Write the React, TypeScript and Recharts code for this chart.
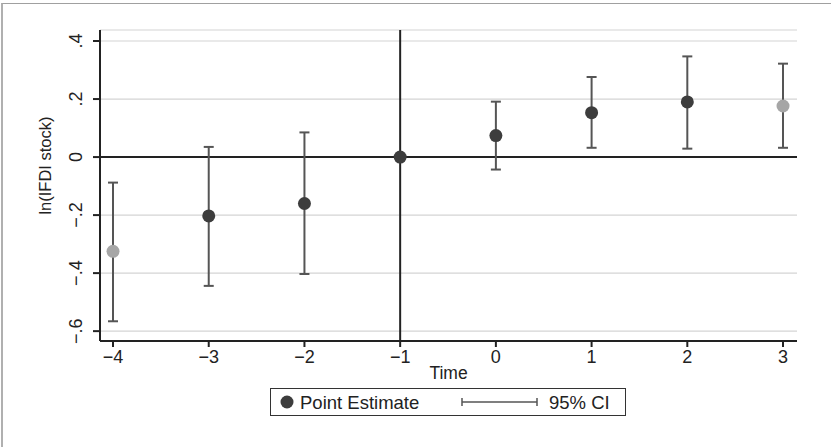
import React from "react";
import {
  ComposedChart,
  Scatter,
  ErrorBar,
  XAxis,
  YAxis,
  CartesianGrid,
  ReferenceLine,
  Label,
} from "recharts";

// event time relative to treatment
const periods = [-4, -3, -2, -1, 0, 1, 2, 3];
// point estimates on ln(IFDI stock)
const estimates = [-0.325, -0.203, -0.16, 0, 0.074, 0.153, 0.19, 0.176];
// 95% confidence bounds (reference period has none)
const ciLow = [-0.566, -0.444, -0.403, null, -0.043, 0.032, 0.029, 0.032];
const ciHigh = [-0.088, 0.035, 0.085, null, 0.191, 0.276, 0.347, 0.322];
// binned end points are drawn in a lighter shade
const binned = [true, false, false, false, false, false, false, true];

const xTicks = [-4, -3, -2, -1, 0, 1, 2, 3];
const yTicks = [-0.6, -0.4, -0.2, 0, 0.2, 0.4];

const FONT = "'Liberation Sans', Arial, Helvetica, sans-serif";
const INK = "#222";
const DARK = "#3d3d3d";
const LIGHT = "#a6a6a6";
const BAR = "#555";

const rows = periods.map((t, i) => ({
  t,
  est: estimates[i],
  err:
    ciLow[i] == null || ciHigh[i] == null
      ? null
      : [estimates[i] - (ciLow[i] as number), (ciHigh[i] as number) - estimates[i]],
  binned: binned[i],
}));

const fmtY = (v: number) => {
  if (Math.abs(v) < 1e-9) return "0";
  const s = Math.abs(v).toFixed(1).replace(/^0/, "");
  return (v < 0 ? "\u2212" : "") + s;
};

const YTick = (props: any) => {
  const { x, y, payload } = props;
  const bx = x - 11;
  return (
    <text
      x={bx}
      y={y}
      transform={`rotate(-90 ${bx} ${y})`}
      textAnchor="middle"
      fill={INK}
      fontSize={18}
      fontFamily={FONT}
    >
      {fmtY(payload.value)}
    </text>
  );
};

const XTick = (props: any) => {
  const { x, y, payload } = props;
  return (
    <text x={x} y={y + 16} textAnchor="middle" fill={INK} fontSize={18} fontFamily={FONT}>
      {String(payload.value).replace("-", "\u2212")}
    </text>
  );
};

const Dot = (props: any) => {
  const { cx, cy, payload } = props;
  if (cx == null || cy == null) return null;
  return <circle cx={cx} cy={cy} r={6.5} fill={payload.binned ? LIGHT : DARK} />;
};

export default function App() {
  return (
    <div
      style={{
        position: "absolute",
        left: 0,
        top: 0,
        width: 831,
        height: 447,
        background: "#fff",
        overflow: "hidden",
        fontFamily: FONT,
      }}
    >
      <div
        style={{
          position: "absolute",
          left: 1,
          top: 3,
          width: 900,
          height: 500,
          borderTop: "1px solid #a0a0a0",
          borderLeft: "2px solid #b0b0b0",
        }}
      />
      <ComposedChart
        width={831}
        height={447}
        data={rows}
        margin={{ top: 30, right: 34, bottom: 66, left: 40 }}
        style={{ position: "absolute", left: 0, top: 0 }}
      >
        <CartesianGrid vertical={false} stroke="#d4d4d4" strokeWidth={1.2} />
        <XAxis
          type="number"
          dataKey="t"
          domain={[-4.136, 3.146]}
          ticks={xTicks}
          allowDataOverflow
          height={40}
          stroke={INK}
          strokeWidth={2}
          tickSize={6}
          tickMargin={0}
          tick={<XTick />}
        >
          <Label
            value="Time"
            position="insideBottom"
            offset={2}
            fill={INK}
            fontSize={17.5}
            fontFamily={FONT}
          />
        </XAxis>
        <YAxis
          type="number"
          domain={[-0.634, 0.438]}
          ticks={yTicks}
          allowDataOverflow
          width={60}
          stroke={INK}
          strokeWidth={2}
          tickSize={7}
          tickMargin={0}
          tick={<YTick />}
        >
          <Label
            content={(p: any) => {
              const vb = p.viewBox || {};
              const cx = 45;
              const cy = (vb.y ?? 30) + (vb.height ?? 311) / 2 - 20;
              return (
                <text
                  x={cx}
                  y={cy}
                  transform={`rotate(-90 ${cx} ${cy})`}
                  textAnchor="middle"
                  dominantBaseline="central"
                  fill={INK}
                  fontSize={16.5}
                  fontFamily={FONT}
                >
                  ln(IFDI stock)
                </text>
              );
            }}
          />
        </YAxis>
        <ReferenceLine y={0} stroke={INK} strokeWidth={2} />
        <ReferenceLine x={-1} stroke={INK} strokeWidth={2} />
        <Scatter dataKey="est" isAnimationActive={false} shape={<Dot />}>
          <ErrorBar dataKey="err" direction="y" width={5} stroke={BAR} strokeWidth={2} />
        </Scatter>
      </ComposedChart>
      {/* legend */}
      <div
        style={{
          position: "absolute",
          left: 270,
          top: 388,
          width: 356,
          height: 28,
          boxSizing: "border-box",
          border: "1.5px solid #333",
          background: "#fff",
        }}
      >
        <svg width={356} height={28} style={{ position: "absolute", left: -1.5, top: -1.5 }}>
          <circle cx={17} cy={14} r={6.5} fill={DARK} />
          <text x={30} y={20.5} fill={INK} fontSize={18.5} fontFamily={FONT}>
            Point Estimate
          </text>
          <line x1={192} x2={267} y1={14} y2={14} stroke={BAR} strokeWidth={1.5} />
          <line x1={192} x2={192} y1={10} y2={18} stroke={BAR} strokeWidth={1.5} />
          <line x1={267} x2={267} y1={10} y2={18} stroke={BAR} strokeWidth={1.5} />
          <text x={279} y={20.5} fill={INK} fontSize={18.5} fontFamily={FONT}>
            95% CI
          </text>
        </svg>
      </div>
    </div>
  );
}
